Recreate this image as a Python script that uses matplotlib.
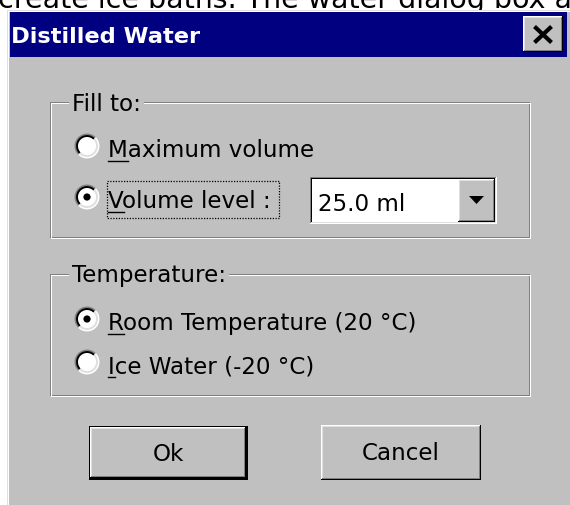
import matplotlib
matplotlib.use("Agg")
import matplotlib.pyplot as plt
from matplotlib.patches import Rectangle, Circle, Arc, Polygon

# ---- content ----
page_text = "create ice baths. The water dialog box a"
title = "Distilled Water"
group_titles = ["Fill to:", "Temperature:"]
fill_options = ["Maximum volume", "Volume level :"]
temp_options = ["Room Temperature (20 \u00b0C)", "Ice Water (-20 \u00b0C)"]
fill_selected = 1
temp_selected = 0
volume_value = "25.0 ml"
button_labels = ["Ok", "Cancel"]

# ---- style ----
NAVY = "#000080"
FACE = "#C0C0C0"
LIGHT = "#DFDFDF"
DARK = "#808080"
FONT = "DejaVu Sans"
FS = 16.6

W, H = 570, 506
fig = plt.figure(figsize=(W / 100, H / 100), dpi=100)
fig.patch.set_facecolor("white")
ax = fig.add_axes([0, 0, 1, 1])
ax.set_xlim(0, W)
ax.set_ylim(H, 0)
ax.axis("off")


def rect(x, y, w, h, color, z=1):
    ax.add_patch(Rectangle((x, y), w, h, facecolor=color, edgecolor="none",
                           linewidth=0, antialiased=False, zorder=z))


def frame(x0, y0, x1, y1, tl, br, z=2):
    rect(x0, y0, x1 - x0, 1, tl, z)
    rect(x0, y0, 1, y1 - y0, tl, z)
    rect(x0, y1 - 1, x1 - x0, 1, br, z)
    rect(x1 - 1, y0, 1, y1 - y0, br, z)


def raised(x0, y0, x1, y1, z=2):
    rect(x0, y0, x1 - x0, y1 - y0, FACE, z)
    frame(x0, y0, x1, y1, "white", "black", z + 0.1)
    frame(x0 + 1, y0 + 1, x1 - 1, y1 - 1, LIGHT, DARK, z + 0.2)


def sunken(x0, y0, x1, y1, fill="white", z=2):
    rect(x0, y0, x1 - x0, y1 - y0, fill, z)
    frame(x0, y0, x1, y1, DARK, "white", z + 0.1)
    frame(x0 + 1, y0 + 1, x1 - 1, y1 - 1, "black", LIGHT, z + 0.2)


# page text (the screenshot shows only its lower part, cut by the image edge)
ax.text(-2, 8, page_text, fontsize=20.5, family=FONT, color="black",
        ha="left", va="baseline", zorder=1)

# dialog frame and body
rect(7, 11, W - 7, H - 11, FACE, 1)
rect(7, 11, 1, H - 11, LIGHT, 1.5)
rect(8, 12, 1, H - 12, "white", 1.5)
rect(7, 11, W - 7, 1, LIGHT, 1.5)
rect(8, 12, W - 8, 1, "white", 1.5)

# title bar
rect(10, 13, 557, 45, NAVY, 2)
ax.text(11, 43, title, fontsize=16.2, family=FONT, fontweight="bold",
        color="white", ha="left", va="baseline", zorder=3)

# close button
raised(523, 17, 563, 53, z=3)
ax.plot([534.5, 551.5], [27.5, 43.5], color="black", lw=3.0, solid_capstyle="butt", zorder=4)
ax.plot([551.5, 534.5], [27.5, 43.5], color="black", lw=3.0, solid_capstyle="butt", zorder=4)


def group(x0, y0, x1, y1, label, ly):
    # etched box
    frame(x0, y0, x1, y1, DARK, DARK, 2)
    frame(x0 + 1, y0 + 1, x1 + 1, y1 + 1, "white", "white", 2)
    ax.text(72, ly, label, fontsize=FS, family=FONT, color="black",
            ha="left", va="baseline", zorder=4,
            bbox=dict(boxstyle="square,pad=0.12", facecolor=FACE,
                      edgecolor="none"))


group(50, 103, 530, 239, group_titles[0], 111)
group(50, 275, 530, 397, group_titles[1], 282)

renderer = fig.canvas.get_renderer()


def radio(cy, label, selected):
    cx, r = 87, 11.5
    ax.add_patch(Circle((cx, cy), r, facecolor="white", edgecolor="none", zorder=3))
    ax.add_patch(Arc((cx, cy), 2 * r, 2 * r, theta1=135, theta2=315,
                     color=DARK, lw=1.4, zorder=4))
    ax.add_patch(Arc((cx, cy), 2 * r - 3, 2 * r - 3, theta1=135, theta2=315,
                     color="black", lw=1.4, zorder=4))
    ax.add_patch(Arc((cx, cy), 2 * r, 2 * r, theta1=315, theta2=495,
                     color="white", lw=1.4, zorder=4))
    ax.add_patch(Arc((cx, cy), 2 * r - 3, 2 * r - 3, theta1=315, theta2=495,
                     color=LIGHT, lw=1.4, zorder=4))
    if selected:
        ax.add_patch(Circle((cx, cy), 3.6, facecolor="black", edgecolor="none", zorder=5))
    tx, base = 108, cy + 10
    t = ax.text(tx, base, label, fontsize=FS, family=FONT, color="black",
                ha="left", va="baseline", zorder=4)
    first = ax.text(tx, base, label[0], fontsize=FS, family=FONT, alpha=0)
    bb = first.get_window_extent(renderer)
    first.remove()
    ax.plot([tx, tx + bb.width], [base + 4.5, base + 4.5], color="black",
            lw=1.0, zorder=4)
    return t


fill_centers = [147, 198]
for i, lab in enumerate(fill_options):
    radio(fill_centers[i], lab, i == fill_selected)
temp_centers = [320, 363]
for i, lab in enumerate(temp_options):
    radio(temp_centers[i], lab, i == temp_selected)

# focus rectangle around selected fill option
ax.add_patch(Rectangle((107, 182), 172, 37, facecolor="none", edgecolor="black",
                       lw=0.9, linestyle=(0, (1, 1.2)), zorder=5))

# combo box
sunken(310, 178, 497, 225)
ax.text(318, 211, volume_value, fontsize=FS, family=FONT, color="black",
        ha="left", va="baseline", zorder=4)
raised(458, 180, 495, 223, z=4)
ax.add_patch(Polygon([[469, 197], [484, 197], [476.5, 205]], closed=True,
                     facecolor="black", edgecolor="none", zorder=5))

# buttons
btns = [(89, 427, 248, 481, True), (321, 426, 481, 481, False)]
for (x0, y0, x1, y1, default), lab in zip(btns, button_labels):
    if default:
        frame(x0, y0, x1, y1, "black", "black", 3)
        rect(x1 - 2, y0, 2, y1 - y0, "black", 3)
        rect(x0, y1 - 2, x1 - x0, 2, "black", 3)
        raised(x0 + 1, y0 + 1, x1 - 2, y1 - 2, z=2)
    else:
        raised(x0, y0, x1, y1, z=2)
    ax.text((x0 + x1) / 2, (y0 + y1) / 2 + 7, lab, fontsize=FS, family=FONT,
            color="black", ha="center", va="baseline", zorder=4)

fig.savefig("out.png", dpi=100, facecolor="white")
